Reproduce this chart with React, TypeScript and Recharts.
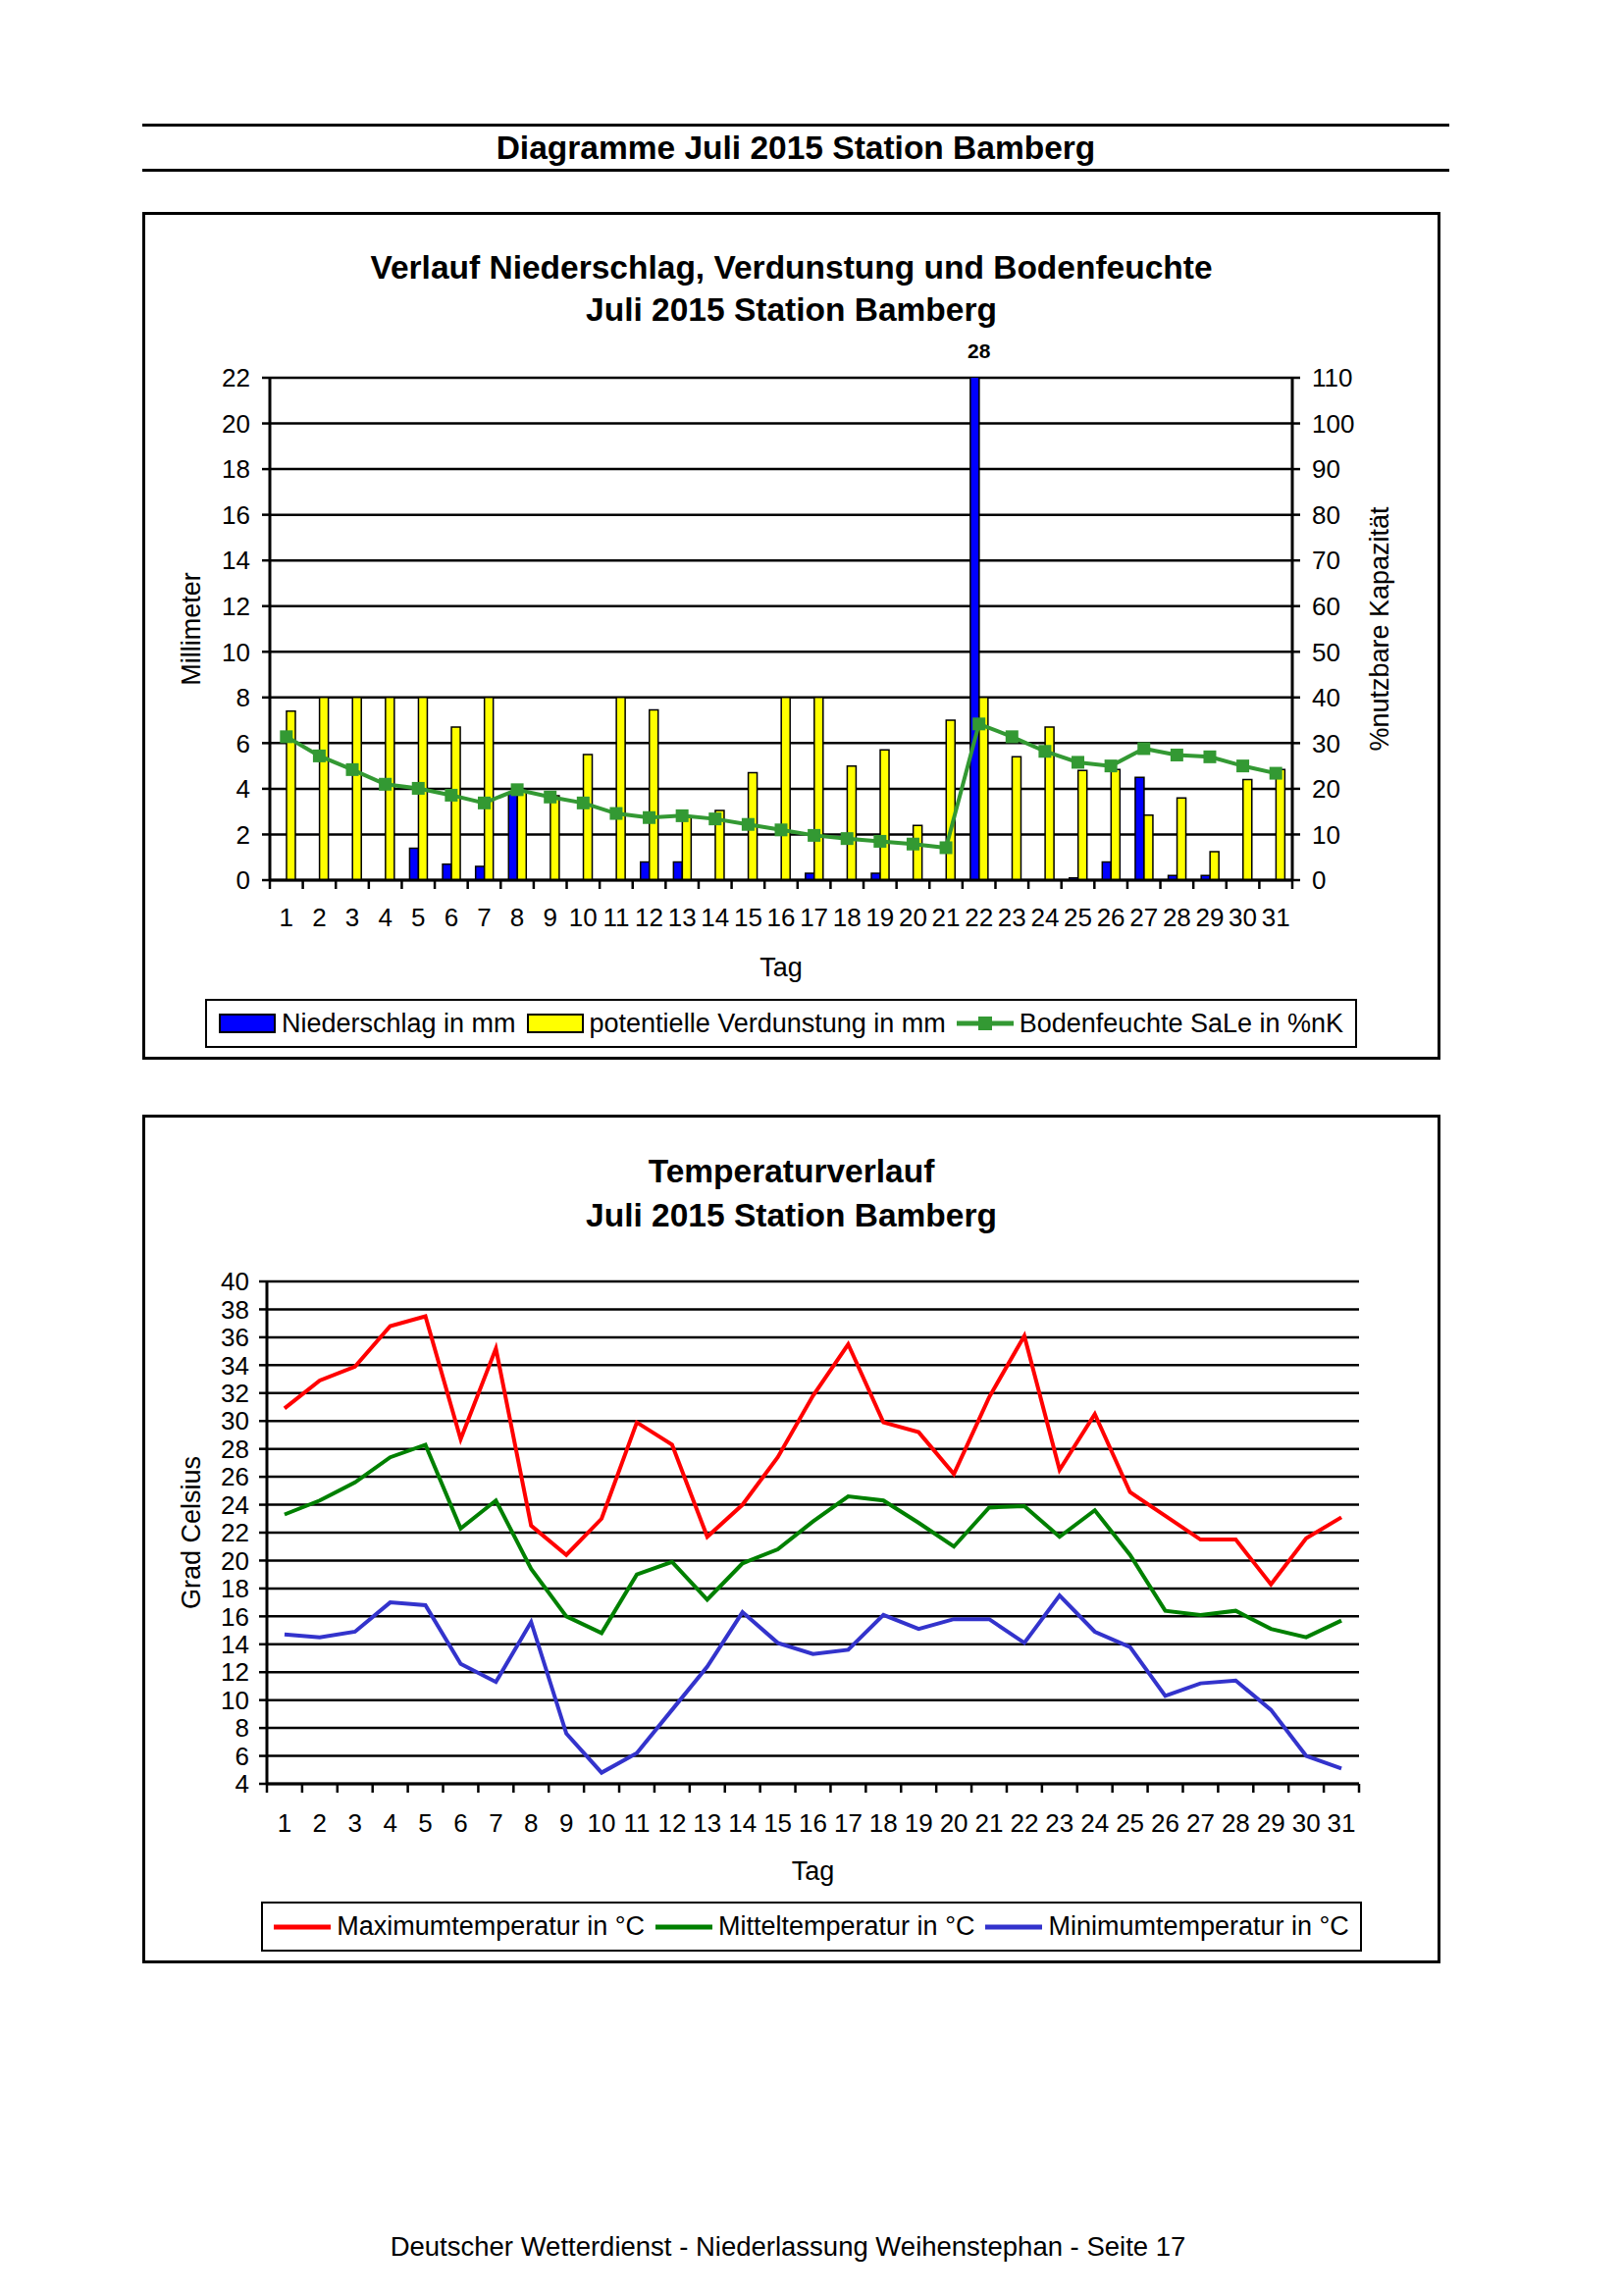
import React from "react";
import {
  ComposedChart,
  LineChart,
  Bar,
  Line,
  XAxis,
  YAxis,
  CartesianGrid,
  Legend,
  ReferenceDot,
} from "recharts";

const FONT = "'Liberation Sans', Arial, Helvetica, sans-serif";

// Tage im Juli
const tage = [
  1, 2, 3, 4, 5, 6, 7, 8, 9, 10, 11, 12, 13, 14, 15, 16, 17, 18, 19, 20, 21,
  22, 23, 24, 25, 26, 27, 28, 29, 30, 31,
];

// Wasserhaushalt (mm bzw. %nK)
const niederschlag = [
  0, 0, 0, 0, 1.4, 0.7, 0.6, 3.8, 0, 0, 0, 0.8, 0.8, 0, 0, 0, 0.3, 0, 0.3, 0,
  0, 28, 0, 0, 0.1, 0.8, 4.5, 0.2, 0.2, 0, 0,
];
const verdunstung = [
  7.4, 8, 8, 8, 8, 6.7, 8, 3.9, 3.7, 5.5, 8, 7.45, 2.8, 3.05, 4.7, 8, 8, 5.0,
  5.7, 2.4, 7.0, 8, 5.4, 6.7, 4.8, 4.85, 2.85, 3.6, 1.25, 4.4, 4.85,
];
const bodenfeuchte = [
  31.4, 27.2, 24.2, 21.0, 20.1, 18.6, 16.9, 19.8, 18.2, 16.9, 14.6, 13.7, 14.1,
  13.4, 12.2, 11.0, 9.8, 9.1, 8.5, 7.9, 7.1, 34.2, 31.4, 28.2, 25.8, 25.0, 28.8,
  27.4, 27.0, 25.0, 23.4,
];
const mmTicks = [0, 2, 4, 6, 8, 10, 12, 14, 16, 18, 20, 22];
const nkTicks = [0, 10, 20, 30, 40, 50, 60, 70, 80, 90, 100, 110];
const MM_MAX = 22;

// Temperaturen (°C)
const tMax = [
  30.9, 32.9, 33.9, 36.8, 37.5, 28.7, 35.2, 22.5, 20.4, 23.0, 29.9, 28.3, 21.7,
  24.0, 27.4, 31.8, 35.5, 29.9, 29.2, 26.2, 31.7, 36.1, 26.5, 30.5, 24.9, 23.2,
  21.5, 21.5, 18.3, 21.6, 23.1,
];
const tMittel = [
  23.3, 24.3, 25.6, 27.4, 28.3, 22.3, 24.3, 19.4, 16.0, 14.8, 19.0, 19.9, 17.2,
  19.8, 20.8, 22.8, 24.6, 24.3, 22.7, 21.0, 23.8, 23.9, 21.7, 23.6, 20.4, 16.4,
  16.1, 16.4, 15.1, 14.5, 15.7,
];
const tMin = [
  14.7, 14.5, 14.9, 17.0, 16.8, 12.6, 11.3, 15.6, 7.6, 4.8, 6.2, 9.3, 12.4,
  16.3, 14.1, 13.3, 13.6, 16.1, 15.1, 15.8, 15.8, 14.1, 17.5, 14.9, 13.8, 10.3,
  11.2, 11.4, 9.3, 6.0, 5.1,
];
const gradTicks = [
  4, 6, 8, 10, 12, 14, 16, 18, 20, 22, 24, 26, 28, 30, 32, 34, 36, 38, 40,
];

const wasserData = tage.map((tag, i) => ({
  tag,
  niederschlag: niederschlag[i],
  verdunstung: verdunstung[i],
  bodenfeuchte: bodenfeuchte[i],
}));

const tempData = tage.map((tag, i) => ({
  tag,
  max: tMax[i],
  mittel: tMittel[i],
  min: tMin[i],
}));

// Legendenreihenfolge wie Reihenfolge der Serien
const legendOrder = ["niederschlag", "verdunstung", "bodenfeuchte", "max", "mittel", "min"];
const byOrder = (item: any) => legendOrder.indexOf(item.dataKey);

function makeTagTick(plotWidth: number, labelDy: number) {
  const band = plotWidth / tage.length;
  return function TagTick(props: any) {
    const { x, y, payload, index } = props;
    return (
      <g>
        <line x1={x - band / 2} y1={y} x2={x - band / 2} y2={y + 9} stroke="#000" strokeWidth={2.5} />
        {index === tage.length - 1 && (
          <line x1={x + band / 2} y1={y} x2={x + band / 2} y2={y + 9} stroke="#000" strokeWidth={2.5} />
        )}
        <text x={x} y={y + labelDy} textAnchor="middle" fontSize={26} fill="#000">
          {payload.value}
        </text>
      </g>
    );
  };
}

function SquareDot(props: any) {
  const { cx, cy, index } = props;
  if (cx == null || cy == null) return <g key={index} />;
  return <rect key={index} x={cx - 6.5} y={cy - 6.5} width={13} height={13} fill="#339933" />;
}

function Symbol({ type, color }: { type: string; color: string }) {
  if (type === "rect") {
    return (
      <span
        style={{
          display: "inline-block",
          width: 58,
          height: 20,
          boxSizing: "border-box",
          border: "2px solid #000",
          background: color,
        }}
      />
    );
  }
  return (
    <svg width={58} height={20} style={{ display: "block" }}>
      <line x1={0} y1={10} x2={58} y2={10} stroke={color} strokeWidth={5} />
      {type === "square" && <rect x={22} y={3} width={14} height={14} fill={color} />}
    </svg>
  );
}

function KastenLegende(props: any) {
  const { payload } = props;
  const items = [...(payload || [])].sort((a: any, b: any) => byOrder(a) - byOrder(b));
  return (
    <div
      style={{
        border: "2px solid #000",
        boxSizing: "border-box",
        height: "100%",
        display: "flex",
        alignItems: "center",
        justifyContent: "center",
        gap: 11,
        fontSize: 27,
        fontFamily: FONT,
        color: "#000",
        background: "#fff",
        whiteSpace: "nowrap",
      }}
    >
      {items.map((e: any) => (
        <span key={e.value} style={{ display: "flex", alignItems: "center", gap: 6 }}>
          <Symbol type={e.type} color={e.color} />
          <span>{e.value}</span>
        </span>
      ))}
    </div>
  );
}

const axisStroke = { stroke: "#000", strokeWidth: 3 };
const tickStroke = { stroke: "#000", strokeWidth: 2.5 };
const tickFont = { fontSize: 26, fill: "#000" };
const axisLabel = { fontSize: 27, fill: "#000", textAnchor: "middle" as const };

function Box({ top, height }: { top: number; height: number }) {
  return (
    <div
      style={{
        position: "absolute",
        left: 145,
        top,
        width: 1323,
        height,
        border: "3px solid #000",
        boxSizing: "border-box",
      }}
    />
  );
}

function Title({ top, text }: { top: number; text: string }) {
  return (
    <div
      style={{
        position: "absolute",
        left: 145,
        width: 1323,
        top,
        textAlign: "center",
        fontSize: 33.5,
        lineHeight: "34px",
        fontWeight: 700,
      }}
    >
      {text}
    </div>
  );
}

export default function App() {
  return (
    <div
      style={{
        position: "absolute",
        left: 0,
        top: 0,
        width: 1653,
        height: 2340,
        background: "#fff",
        fontFamily: FONT,
        color: "#000",
      }}
    >
      {/* Kopfzeile */}
      <div style={{ position: "absolute", left: 145, top: 126, width: 1332, height: 3, background: "#000" }} />
      <div
        style={{
          position: "absolute",
          left: 145,
          width: 1332,
          top: 134,
          textAlign: "center",
          fontSize: 33.5,
          lineHeight: "34px",
          fontWeight: 700,
        }}
      >
        Diagramme Juli 2015 Station Bamberg
      </div>
      <div style={{ position: "absolute", left: 145, top: 172, width: 1332, height: 3, background: "#000" }} />

      {/* Niederschlag, Verdunstung, Bodenfeuchte */}
      <Box top={216} height={864} />
      <Title top={256} text="Verlauf Niederschlag, Verdunstung und Bodenfeuchte" />
      <Title top={299} text="Juli 2015 Station Bamberg" />
      <div style={{ position: "absolute", left: 145, top: 216 }}>
        <ComposedChart
          width={1323}
          height={864}
          data={wasserData}
          margin={{ top: 169, right: 91, bottom: 143, left: 70 }}
          barGap={0}
        >
          <CartesianGrid yAxisId="mm" vertical={false} stroke="#000" strokeWidth={2.5} />
          <XAxis
            dataKey="tag"
            interval={0}
            height={40}
            tickSize={0}
            tickMargin={0}
            tickLine={false}
            axisLine={axisStroke}
            tick={makeTagTick(1042, 47)}
            label={{ value: "Tag", position: "bottom", offset: 39, fontSize: 27, fill: "#000" }}
          />
          <YAxis
            yAxisId="mm"
            domain={[0, MM_MAX]}
            ticks={mmTicks}
            interval={0}
            allowDataOverflow
            width={60}
            tickSize={8}
            tickMargin={12}
            axisLine={axisStroke}
            tickLine={tickStroke}
            tick={tickFont}
            label={{ value: "Millimeter", angle: -90, position: "insideLeft", offset: -21, style: axisLabel }}
          />
          <YAxis
            yAxisId="nk"
            orientation="right"
            domain={[0, 110]}
            ticks={nkTicks}
            interval={0}
            width={60}
            tickSize={8}
            tickMargin={12}
            axisLine={axisStroke}
            tickLine={tickStroke}
            tick={{ ...tickFont, textAnchor: "start" }}
            label={{ value: "%nutzbare Kapazität", angle: -90, position: "insideRight", offset: -28, style: axisLabel }}
          />
          <Bar
            yAxisId="mm"
            dataKey="niederschlag"
            name="Niederschlag in mm"
            fill="#0000FF"
            stroke="#000"
            strokeWidth={1.5}
            barSize={9}
            legendType="rect"
            isAnimationActive={false}
          />
          <Bar
            yAxisId="mm"
            dataKey="verdunstung"
            name="potentielle Verdunstung in mm"
            fill="#FFFF00"
            stroke="#000"
            strokeWidth={1.5}
            barSize={9}
            legendType="rect"
            isAnimationActive={false}
          />
          <Line
            yAxisId="nk"
            dataKey="bodenfeuchte"
            name="Bodenfeuchte SaLe in %nK"
            stroke="#339933"
            strokeWidth={4}
            dot={SquareDot}
            legendType="square"
            isAnimationActive={false}
          />
          {wasserData
            .filter((d) => d.niederschlag > MM_MAX)
            .map((d) => (
              <ReferenceDot
                key={d.tag}
                yAxisId="mm"
                x={d.tag}
                y={MM_MAX}
                r={0}
                fill="none"
                stroke="none"
                ifOverflow="visible"
                label={{ value: String(d.niederschlag), position: "top", offset: 20, fontSize: 21, fontWeight: 700, fill: "#000" }}
              />
            ))}
          <Legend
            layout="horizontal"
            verticalAlign="middle"
            align="center"
            itemSorter={byOrder}
            content={KastenLegende}
            wrapperStyle={{ left: 64, top: 802, width: 1174, height: 50 }}
          />
        </ComposedChart>
      </div>

      {/* Temperaturverlauf */}
      <Box top={1136} height={865} />
      <Title top={1177} text="Temperaturverlauf" />
      <Title top={1222} text="Juli 2015 Station Bamberg" />
      <div style={{ position: "absolute", left: 145, top: 1136 }}>
        <LineChart
          width={1323}
          height={865}
          data={tempData}
          margin={{ top: 170, right: 83, bottom: 143, left: 67 }}
        >
          <CartesianGrid yAxisId="c" vertical={false} stroke="#000" strokeWidth={2.5} />
          <XAxis
            dataKey="tag"
            scale="band"
            interval={0}
            height={40}
            tickSize={0}
            tickMargin={0}
            tickLine={false}
            axisLine={axisStroke}
            tick={makeTagTick(1113, 49)}
            label={{ value: "Tag", position: "bottom", offset: 39, fontSize: 27, fill: "#000" }}
          />
          <YAxis
            yAxisId="c"
            domain={[4, 40]}
            ticks={gradTicks}
            interval={0}
            width={60}
            tickSize={8}
            tickMargin={10}
            axisLine={axisStroke}
            tickLine={tickStroke}
            tick={tickFont}
            label={{ value: "Grad Celsius", angle: -90, position: "insideLeft", offset: -18, style: axisLabel }}
          />
          <YAxis
            yAxisId="r"
            orientation="right"
            domain={[4, 40]}
            width={0}
            tick={false}
            tickLine={false}
            axisLine={axisStroke}
          />
          <Line
            yAxisId="c"
            dataKey="max"
            name="Maximumtemperatur in °C"
            stroke="#FF0000"
            strokeWidth={4}
            dot={false}
            legendType="line"
            isAnimationActive={false}
          />
          <Line
            yAxisId="c"
            dataKey="mittel"
            name="Mitteltemperatur in °C"
            stroke="#008000"
            strokeWidth={4}
            dot={false}
            legendType="line"
            isAnimationActive={false}
          />
          <Line
            yAxisId="c"
            dataKey="min"
            name="Minimumtemperatur in °C"
            stroke="#3333CC"
            strokeWidth={4}
            dot={false}
            legendType="line"
            isAnimationActive={false}
          />
          <Legend
            layout="horizontal"
            verticalAlign="middle"
            align="center"
            itemSorter={byOrder}
            content={KastenLegende}
            wrapperStyle={{ left: 121, top: 802, width: 1122, height: 51 }}
          />
        </LineChart>
      </div>

      <div
        style={{
          position: "absolute",
          left: 0,
          width: 1606,
          top: 2276,
          textAlign: "center",
          fontSize: 27.5,
          lineHeight: "28px",
        }}
      >
        Deutscher Wetterdienst - Niederlassung Weihenstephan - Seite 17
      </div>
    </div>
  );
}
